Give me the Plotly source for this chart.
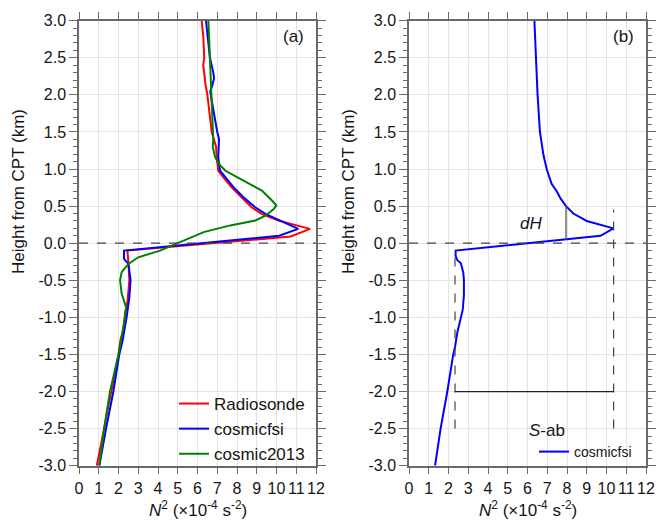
import plotly.graph_objects as go

# ---------------- data ----------------
radiosonde_x = [6.21, 6.29, 6.34, 6.29, 6.41, 6.50, 6.72, 6.89, 6.94, 6.97, 7.05, 7.30, 7.73, 8.23, 8.74, 9.24,
                10.09, 11.02, 11.70, 10.72, 2.45, 2.50, 2.55, 2.45, 2.33, 2.24, 2.10, 2.00, 1.65, 1.27, 0.90]
radiosonde_y = [3.0, 2.8, 2.5, 2.4, 2.13, 2.0, 1.5, 1.35, 1.3, 1.16, 0.98, 0.89, 0.755, 0.62, 0.485, 0.395,
                0.307, 0.24, 0.193, 0.09, -0.1, -0.25, -0.5, -0.8, -0.95, -1.18, -1.3, -1.5, -2.0, -2.5, -3.0]

cfsi_x = [6.43, 6.63, 6.80, 6.84, 6.75, 6.65, 6.67, 6.85, 7.00, 7.09, 7.05, 7.05, 7.14, 7.40, 7.82, 8.33, 8.92,
          9.44, 10.18, 10.68, 11.10, 10.14, 2.28, 2.28, 2.50, 2.61, 2.55, 2.41, 2.21, 2.04, 1.74, 1.37, 1.03]
cfsi_y = [3.0, 2.5, 2.3, 2.22, 2.13, 2.05, 2.0, 1.7, 1.5, 1.4, 1.2, 1.16, 0.98, 0.89, 0.755, 0.62, 0.485,
          0.395, 0.307, 0.24, 0.193, 0.1, -0.1, -0.21, -0.28, -0.5, -0.73, -1.0, -1.31, -1.5, -2.0, -2.5, -3.0]

c2013_x = [6.55, 6.63, 6.72, 6.78, 6.80, 6.77, 6.89, 7.15, 7.40, 8.00, 8.67, 9.26, 9.77, 9.99, 9.86, 9.44, 8.93,
           7.66, 6.31, 5.00, 4.10, 3.00, 2.50, 2.16, 2.08, 2.16, 2.38, 2.33, 2.21, 2.11, 2.00, 1.57, 1.27, 1.03]
c2013_y = [3.0, 2.5, 2.0, 1.5, 1.385, 1.3, 1.16, 1.05, 0.98, 0.89, 0.8, 0.71, 0.575, 0.51, 0.46, 0.37, 0.307,
           0.24, 0.15, 0.0, -0.1, -0.19, -0.28, -0.39, -0.5, -0.68, -0.86, -1.0, -1.18, -1.31, -1.5, -2.0, -2.5, -3.0]

smooth_x = [6.35, 6.43, 6.51, 6.63, 6.80, 6.97, 7.10, 7.22, 7.48, 7.68, 7.95, 8.32, 9.00, 10.35, 9.70,
            2.36, 2.36, 2.45, 2.63, 2.75, 2.78, 2.78, 2.72, 2.62, 2.45, 2.33, 2.24, 1.94, 1.60, 1.32]
smooth_y = [3.0, 2.5, 2.0, 1.5, 1.2, 1.0, 0.9, 0.8, 0.7, 0.6, 0.5, 0.4, 0.3, 0.2, 0.1,
            -0.1, -0.17, -0.23, -0.27, -0.4, -0.5, -0.7, -0.9, -1.0, -1.2, -1.4, -1.5, -2.0, -2.5, -3.0]

x_ticks = list(range(0, 13))
x_ticklabels = [str(v) for v in x_ticks]
y_ticks = [3.0, 2.5, 2.0, 1.5, 1.0, 0.5, 0.0, -0.5, -1.0, -1.5, -2.0, -2.5, -3.0]
y_ticklabels = ["3.0", "2.5", "2.0", "1.5", "1.0", "0.5", "0.0", "-0.5", "-1.0", "-1.5", "-2.0", "-2.5", "-3.0"]

# annotation geometry in data units (panel b)
sab_left, sab_right = 2.33, 10.36
sab_level = -2.0
sab_bottom = -2.5
sab_left_top, sab_right_top = -0.1, 0.45
dh_x, dh_y0, dh_y1 = 7.95, 0.05, 0.5

FONT = "Liberation Sans, Arial, sans-serif"
TXT = "#151515"
AX = "#6a6a6a"
RED, BLUE, GREEN = "#ff0000", "#0000ff", "#008000"

W, H = 659, 530
PLOT_TOP, PLOT_BOT = 20.7, 465.7
LEFT_A, RIGHT_A = 79, 316
LEFT_B, RIGHT_B = 409, 646


def px(xp):
    return xp / W


def py(yp):
    return 1 - yp / H


fig = go.Figure()
fig.add_trace(go.Scatter(x=radiosonde_x, y=radiosonde_y, mode="lines", name="Radiosonde",
                         line=dict(color=RED, width=2), xaxis="x", yaxis="y", legend="legend"))
fig.add_trace(go.Scatter(x=cfsi_x, y=cfsi_y, mode="lines", name="cosmicfsi",
                         line=dict(color=BLUE, width=2), xaxis="x", yaxis="y", legend="legend"))
fig.add_trace(go.Scatter(x=c2013_x, y=c2013_y, mode="lines", name="cosmic2013",
                         line=dict(color=GREEN, width=2), xaxis="x", yaxis="y", legend="legend"))
fig.add_trace(go.Scatter(x=smooth_x, y=smooth_y, mode="lines", name="cosmicfsi",
                         line=dict(color=BLUE, width=2), xaxis="x2", yaxis="y2", legend="legend2"))
# empty traces that carry the minor-tick overlay axes
fig.add_trace(go.Scatter(x=[], y=[], xaxis="x", yaxis="y3", showlegend=False, hoverinfo="skip"))
fig.add_trace(go.Scatter(x=[], y=[], xaxis="x2", yaxis="y4", showlegend=False, hoverinfo="skip"))

axis_common = dict(showline=True, linecolor=AX, linewidth=1.5, mirror="ticks", automargin=False,
                   ticks="outside", tickcolor=AX, tickwidth=1.2,
                   showgrid=True, gridcolor="#e4e4e4", gridwidth=1, zeroline=False,
                   tickfont=dict(family=FONT, size=16, color=TXT))

xa = dict(axis_common, range=[0, 12], tickmode="array", tickvals=x_ticks, ticktext=x_ticklabels,
          ticklen=7, ticklabelstandoff=0, tickangle=0)
ya = dict(axis_common, range=[-3, 3], tickmode="array", tickvals=y_ticks, ticktext=y_ticklabels, ticklen=8,
          tickangle=0)
minor_ax = dict(range=[-3, 3], tickmode="linear", tick0=-3, dtick=0.1, ticks="outside", ticklen=4,
                tickwidth=1, tickcolor=AX, showticklabels=False, showgrid=False, zeroline=False,
                showline=True, linecolor=AX, linewidth=1.5, mirror="ticks", automargin=False, side="left")

ydom = [py(PLOT_BOT), py(PLOT_TOP)]
fig.update_layout(
    width=W, height=H, margin=dict(l=0, r=0, t=0, b=0, autoexpand=False),
    paper_bgcolor="white", plot_bgcolor="white", showlegend=True,
    xaxis=dict(xa, domain=[px(LEFT_A), px(RIGHT_A)], anchor="y"),
    yaxis=dict(ya, domain=ydom, anchor="x"),
    xaxis2=dict(xa, domain=[px(LEFT_B), px(RIGHT_B)], anchor="y2"),
    yaxis2=dict(ya, domain=ydom, anchor="x2"),
    yaxis3=dict(minor_ax, overlaying="y", anchor="x"),
    yaxis4=dict(minor_ax, overlaying="y2", anchor="x2"),
    legend=dict(x=px(174), y=py(386), xanchor="left", yanchor="top",
                bgcolor="rgba(0,0,0,0)", font=dict(family=FONT, size=17, color=TXT),
                itemwidth=30, tracegroupgap=0),
    legend2=dict(x=px(534), y=py(436), xanchor="left", yanchor="top",
                 bgcolor="rgba(0,0,0,0)", font=dict(family=FONT, size=14, color=TXT),
                 itemwidth=30),
)

shapes = []
for xr, yr in [("x", "y"), ("x2", "y2")]:
    shapes.append(dict(type="line", xref=f"{xr} domain", yref=yr, x0=0, x1=1, y0=0, y1=0,
                       line=dict(color="#444", width=1.2, dash="dash"), layer="above"))
shapes += [
    dict(type="line", xref="x2", yref="y2", x0=sab_left, x1=sab_left, y0=sab_bottom, y1=sab_left_top,
         line=dict(color="#444", width=1.2, dash="dash")),
    dict(type="line", xref="x2", yref="y2", x0=sab_right, x1=sab_right, y0=sab_bottom, y1=sab_right_top,
         line=dict(color="#444", width=1.2, dash="dash")),
    dict(type="line", xref="x2", yref="y2", x0=sab_left, x1=sab_right, y0=sab_level, y1=sab_level,
         line=dict(color="#222", width=1.2)),
    dict(type="line", xref="x2", yref="y2", x0=dh_x, x1=dh_x, y0=dh_y0, y1=dh_y1,
         line=dict(color="#555", width=1.3)),
]
fig.update_layout(shapes=shapes)

lbl = dict(family=FONT, size=17, color=TXT)
fig.add_annotation(xref="x", yref="y", x=10.87, y=2.79, text="(a)", showarrow=False, font=lbl)
fig.add_annotation(xref="x2", yref="y2", x=10.87, y=2.79, text="(b)", showarrow=False, font=lbl)
fig.add_annotation(xref="x2", yref="y2", x=6.2, y=0.27, text="<i>dH</i>", showarrow=False, font=lbl)
fig.add_annotation(xref="x2", yref="y2", x=7.01, y=-2.53, text="<i>S</i>-ab", showarrow=False, font=lbl)

# axis titles
xt = "<i>N</i><sup>2</sup> (×10<sup>-4</sup> s<sup>-2</sup>)"
yt = "Height from CPT (km)"
ttl = dict(family=FONT, size=17, color=TXT)
for cx, ycx in [((LEFT_A + RIGHT_A) / 2, 19), ((LEFT_B + RIGHT_B) / 2, 349)]:
    fig.add_annotation(xref="paper", yref="paper", x=px(cx), y=py(509), text=xt, showarrow=False,
                       font=ttl, xanchor="center", yanchor="middle")
    fig.add_annotation(xref="paper", yref="paper", x=px(ycx), y=py(192), text=yt, showarrow=False,
                       font=ttl, textangle=-90, xanchor="center", yanchor="middle")

fig.write_html("out.html")
